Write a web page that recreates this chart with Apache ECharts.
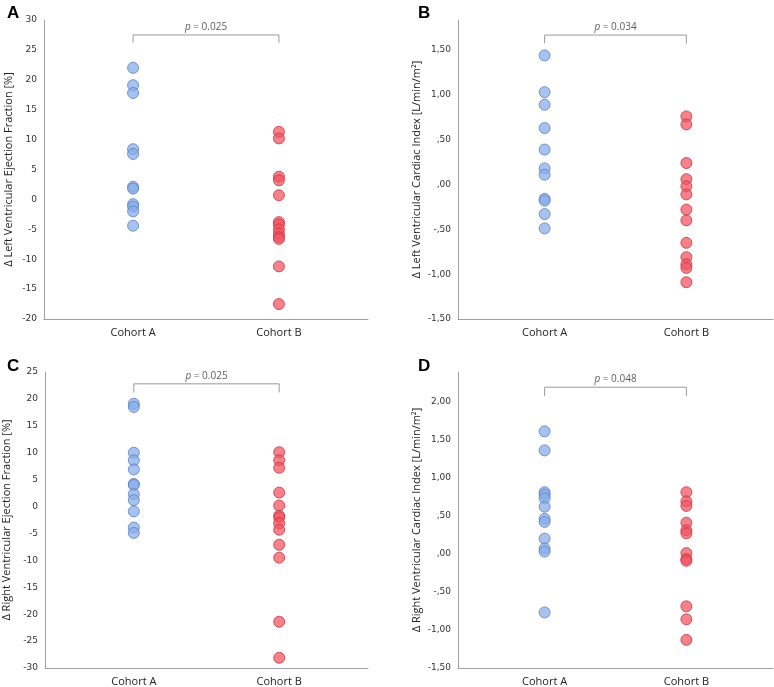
<!DOCTYPE html>
<html lang="en">
  <head>
    <meta charset="UTF-8" />
    <title>Cohort comparison</title>
    <style>
      html, body { margin: 0; padding: 0; background: #fff; }
    </style>
  </head>
  <body>
    <div id="chart" style="width: 774px; height: 687px"></div>
    <script src="https://cdn.jsdelivr.net/npm/echarts@6/dist/echarts.min.js"></script>
    <script>
      // categories
      var cohorts = ["Cohort A", "Cohort B"];

      // A: delta LVEF [%]
      var lvefA = [22.0, 19.1, 17.8, 8.4, 7.6, 2.1, 1.8, -0.8, -1.2, -2.0, -4.4];
      var lvefB = [11.3, 10.2, 3.8, 3.2, 0.7, -3.8, -4.2, -5.0, -5.7, -6.3, -6.6, -11.2, -17.5];
      // B: delta LV cardiac index
      var lvciA = [1.44, 1.03, 0.89, 0.63, 0.39, 0.18, 0.11, -0.16, -0.18, -0.33, -0.49];
      var lvciB = [0.76, 0.67, 0.24, 0.06, -0.02, -0.11, -0.28, -0.4, -0.65, -0.81, -0.89, -0.93, -1.09];
      // C: delta RVEF [%]
      var rvefA = [19.1, 18.5, 10.0, 8.6, 6.9, 4.2, 4.0, 2.3, 1.2, -0.9, -3.9, -4.9];
      var rvefB = [10.1, 8.6, 7.2, 2.6, 0.2, -1.7, -2.0, -3.1, -4.3, -7.1, -9.5, -21.4, -28.1];
      // D: delta RV cardiac index
      var rvciA = [1.61, 1.36, 0.81, 0.78, 0.73, 0.62, 0.46, 0.42, 0.2, 0.07, 0.03, -0.77];
      var rvciB = [0.81, 0.69, 0.63, 0.41, 0.31, 0.27, 0.01, -0.07, -0.09, -0.69, -0.86, -1.13];

      // y tick labels
      var ticksLvef = [-20, -15, -10, -5, 0, 5, 10, 15, 20, 25, 30];
      var ticksLvci = [-1.5, -1, -0.5, 0, 0.5, 1, 1.5];
      var ticksRvef = [-30, -25, -20, -15, -10, -5, 0, 5, 10, 15, 20, 25];
      var ticksRvci = [-1.5, -1, -0.5, 0, 0.5, 1, 1.5, 2];

      var pValues = ["0.025", "0.034", "0.025", "0.048"];

      // SPSS style decimal comma: ",50" / "-1,00"
      function commaFmt(v) {
        var s = Math.abs(v).toFixed(2).replace(".", ",");
        if (Math.abs(v) < 1) s = s.replace(/^0/, "");
        return (v < 0 ? "-" : "") + s;
      }

      var panels = [
        {
          letter: "A", a: lvefA, b: lvefB, ticks: ticksLvef, min: -20, max: 30,
          name: "\u0394 Left Ventricular Ejection Fraction [%]",
          fmt: function (v) { return String(v); },
          grid: { left: 44, top: 20, width: 324, height: 299 },
          br: [26.2, 27.5], nameGap: 30, lx: 2, ly: 0,
        },
        {
          letter: "B", a: lvciA, b: lvciB, ticks: ticksLvci, min: -1.5, max: 1.835,
          name: "\u0394 Left Ventricular Cardiac Index [L/min/m\u00b2]",
          fmt: commaFmt,
          grid: { left: 458, top: 20, width: 315, height: 299 },
          br: [1.575, 1.667], nameGap: 36, lx: 413, ly: 0,
        },
        {
          letter: "C", a: rvefA, b: rvefB, ticks: ticksRvef, min: -30, max: 25,
          name: "\u0394 Right Ventricular Ejection Fraction [%]",
          fmt: function (v) { return String(v); },
          grid: { left: 44, top: 372, width: 324, height: 299 },
          br: [21.2, 22.8], nameGap: 33, lx: 2, ly: 353,
        },
        {
          letter: "D", a: rvciA, b: rvciB, ticks: ticksRvci, min: -1.5, max: 2.39,
          name: "\u0394 Right Ventricular Cardiac Index [L/min/m\u00b2]",
          fmt: commaFmt,
          grid: { left: 458, top: 372, width: 315, height: 299 },
          br: [2.075, 2.19], nameGap: 36, lx: 413, ly: 353,
        },
      ];

      var axisGray = "#a0a0a0";
      var option = {
        backgroundColor: "#fff",
        animation: false,
        title: [],
        grid: [],
        xAxis: [],
        yAxis: [],
        series: [],
      };

      panels.forEach(function (p, i) {
        option.title.push({
          text: p.letter, left: p.lx, top: p.ly,
          textStyle: { fontFamily: "Liberation Sans", fontWeight: "bold", fontSize: 17, color: "#000" },
        });
        option.grid.push(p.grid);
        option.xAxis.push({
          gridIndex: i, type: "value", min: -0.611, max: 1.611,
          splitLine: { show: false },
          axisTick: { show: false },
          axisLine: { show: true, onZero: false, lineStyle: { color: axisGray } },
          axisLabel: {
            customValues: [0, 1],
            formatter: function (v) { return cohorts[Math.round(v)]; },
            margin: 8, fontFamily: "Open Sans", fontSize: 11, color: "#222",
          },
        });
        option.yAxis.push({
          gridIndex: i, type: "value", min: p.min, max: p.max,
          name: p.name, nameLocation: "middle", nameGap: p.nameGap,
          nameTextStyle: { fontFamily: "Open Sans", fontSize: 11, color: "#222" },
          splitLine: { show: false },
          axisTick: { show: false },
          axisLine: { show: true, onZero: false, lineStyle: { color: axisGray } },
          axisLabel: {
            customValues: p.ticks, formatter: p.fmt,
            margin: 7, fontFamily: "DejaVu Sans", fontSize: 9, color: "#333",
          },
        });
        var mk = function (arr, x) {
          return arr.map(function (v) { return [x, v]; });
        };
        option.series.push({
          type: "scatter", xAxisIndex: i, yAxisIndex: i,
          data: mk(p.a, 0), symbolSize: 11,
          itemStyle: { color: "rgba(135,172,232,0.92)", borderColor: "#5a7fc2", borderWidth: 1 },
        });
        option.series.push({
          type: "scatter", xAxisIndex: i, yAxisIndex: i,
          data: mk(p.b, 1), symbolSize: 11,
          itemStyle: { color: "rgba(242,84,96,0.92)", borderColor: "#cc3444", borderWidth: 1 },
        });
        // significance bracket
        option.series.push({
          type: "line", xAxisIndex: i, yAxisIndex: i, symbol: "none", silent: true,
          data: [[0, p.br[0]], [0, p.br[1]], [1, p.br[1]], [1, p.br[0]]],
          lineStyle: { color: "#999", width: 1 },
        });
        option.series.push({
          type: "scatter", xAxisIndex: i, yAxisIndex: i, symbolSize: 0, silent: true,
          data: [[0.5, p.br[1]]],
          label: {
            show: true, position: "top", distance: 3,
            formatter: "{it|p} = " + pValues[i],
            fontFamily: "Open Sans", fontSize: 10, color: "#333",
            rich: { it: { fontStyle: "italic", fontFamily: "Open Sans", fontSize: 10, color: "#333" } },
          },
        });
      });

      var myChart = echarts.init(document.getElementById("chart"));
      myChart.setOption(option);
    </script>
  </body>
</html>
